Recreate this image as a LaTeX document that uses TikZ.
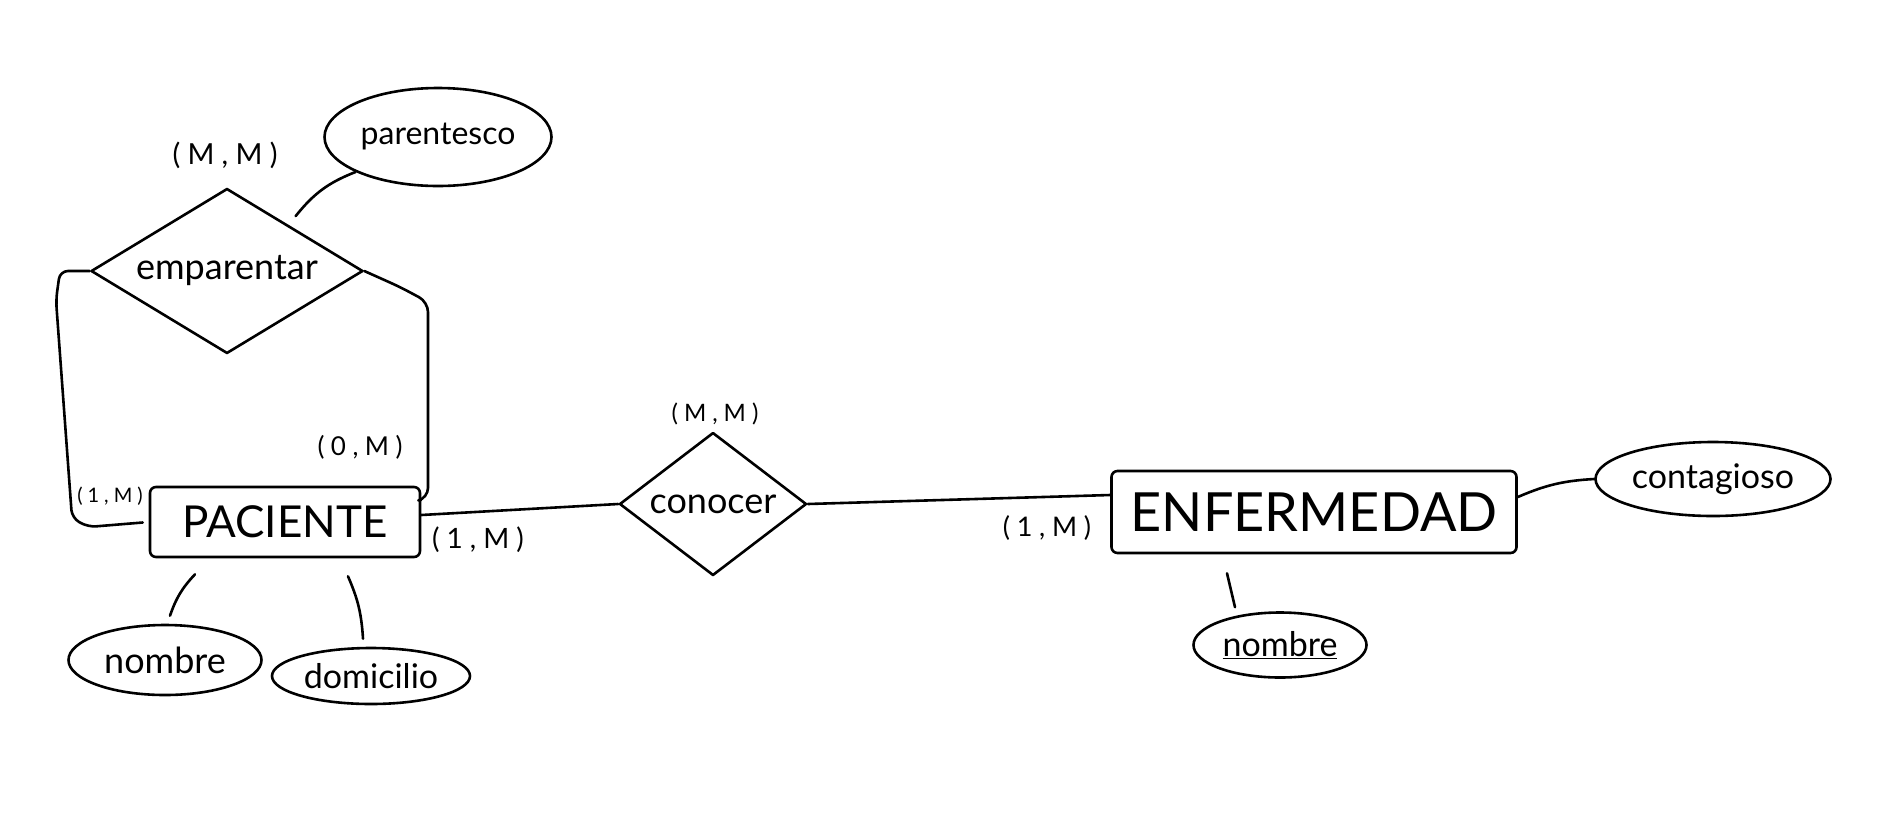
\documentclass[tikz,border=0pt]{standalone}
\usepackage{fontspec}
\setmainfont{Lato}
\newfontfamily\spacedfont[LetterSpace=25]{Lato}
\usetikzlibrary{shapes.geometric}
\newcommand{\fz}[1]{\fontsize{#1}{#1}\selectfont}
\begin{document}
\begin{tikzpicture}[x=1pt,y=-1pt,line width=2.6pt,line cap=round,line join=round,
  ent/.style={draw,rectangle,rounded corners=6pt,inner sep=0pt},
  rel/.style={draw,diamond,inner sep=0pt},
  attr/.style={draw,ellipse,inner sep=0pt},
  card/.style={inner sep=0pt}]
\useasboundingbox[fill=white] (0,0) rectangle (1902,839);

% relationships
\node[rel,minimum width=272pt,minimum height=165pt,aspect=1.65,font=\fz{36}] (emp) at (227,271) {emparentar};
\node[rel,minimum width=187pt,minimum height=143pt,aspect=1.3,font=\fz{36}] (con) at (713,504) {conocer};

% entities
\node[ent,minimum width=270pt,minimum height=70pt,font=\fz{44}] (pac) at (285,522) {PACIENTE};
\node[ent,minimum width=405pt,minimum height=82pt,font=\fz{54}] (enf) at (1314,512) {ENFERMEDAD};

% attributes
\node[attr,minimum width=227pt,minimum height=98pt,font=\fz{32}] (par) at (438,137) {parentesco};
\node[attr,minimum width=193pt,minimum height=70pt,font=\fz{36}] (nom1) at (165,660) {nombre};
\node[attr,minimum width=198pt,minimum height=56pt,font=\fz{34}] (dom) at (371,676) {domicilio};
\node[attr,minimum width=235pt,minimum height=74pt,font=\fz{34}] (cont) at (1713,479) {contagioso};
\node[attr,minimum width=173pt,minimum height=65pt,font=\fz{34}] (nom2) at (1280,645) {\underline{nombre}};

% cardinalities
\node[card,font=\spacedfont\fz{29}] (c1) at (225,155) {(M,M)};
\node[card,font=\spacedfont\fz{20}] (c2) at (110,496) {(1,M)};
\node[card,font=\spacedfont\fz{26}] (c3) at (360,447) {(0,M)};
\node[card,font=\spacedfont\fz{28}] (c4) at (478,540) {(1,M)};
\node[card,font=\spacedfont\fz{24}] (c5) at (715,414) {(M,M)};
\node[card,font=\spacedfont\fz{27}] (c6) at (1047,528) {(1,M)};

% recursive relationship
\draw[rounded corners=8pt,shorten >=6pt] (emp.west) -- (60,271) -- (56,300) -- (72,518) -- (88,527) -- (pac.west);
\draw[rounded corners=10pt] (emp.east) -- (400,287) -- (428,302) -- (428,498) -- ([yshift=-14pt]pac.north east);

% connectors
\draw ([yshift=7pt]pac.east) -- (con.west);
\draw (con.east) -- ([yshift=17pt]enf.west);
\draw ([yshift=15pt]enf.east) to[bend left=10] (cont.west);
\draw (par.203) to[bend right=15] ([yshift=13pt]emp.north east);
\draw ([xshift=-90pt,yshift=-16pt]pac.south) to[bend right=12] ([xshift=5pt,yshift=8pt]nom1.north);
\draw ([xshift=63pt,yshift=-18pt]pac.south) to[bend left=10] ([xshift=-8pt,yshift=8pt]dom.north);
\draw ([xshift=-87pt,yshift=-19pt]enf.south) -- ([xshift=-45pt,yshift=4pt]nom2.north);
\end{tikzpicture}
\end{document}
